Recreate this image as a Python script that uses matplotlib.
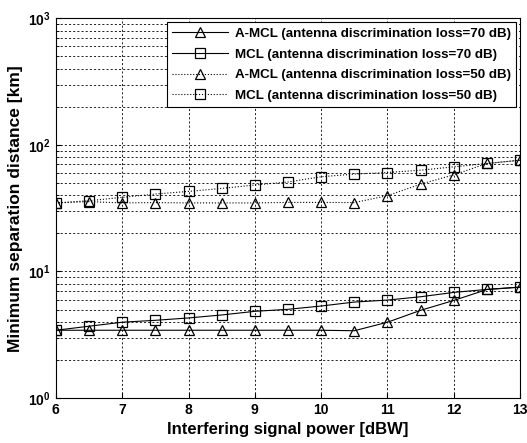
import numpy as np
import matplotlib.pyplot as plt

plt.rcParams['font.family'] = ['Liberation Sans', 'DejaVu Sans']

power = [6, 6.5, 7, 7.5, 8, 8.5, 9, 9.5, 10, 10.5, 11, 11.5, 12, 12.5, 13]
amcl_70 = [3.43, 3.43, 3.43, 3.43, 3.43, 3.43, 3.43, 3.43, 3.43, 3.4, 3.97, 4.93, 5.9, 7.2, 7.52]
mcl_70 = [3.43, 3.69, 3.97, 4.11, 4.29, 4.53, 4.84, 5.02, 5.33, 5.73, 5.94, 6.31, 6.83, 7.21, 7.52]
amcl_50 = [34.8, 35.6, 34.8, 35.0, 34.8, 34.8, 34.8, 35.1, 35.1, 35.0, 39.7, 49.0, 58.0, 71.3, 75.7]
mcl_50 = [34.8, 36.2, 38.5, 40.9, 42.9, 45.3, 48.2, 50.9, 56.0, 58.8, 60.5, 63.1, 67.1, 71.3, 75.7]

labels = ['A-MCL (antenna discrimination loss=70 dB)',
          'MCL (antenna discrimination loss=70 dB)',
          'A-MCL (antenna discrimination loss=50 dB)',
          'MCL (antenna discrimination loss=50 dB)']

fig = plt.figure(figsize=(5.27, 4.43), dpi=100)
ax = fig.add_axes([0.106, 0.1016, 0.881, 0.857])

mk = dict(color='black', lw=0.8, ms=6.5, mfc='none', mec='black', mew=0.9)
ax.semilogy(power, amcl_70, '-', marker='^', label=labels[0], **mk)
ax.semilogy(power, mcl_70, '-', marker='s', label=labels[1], **mk)
ax.semilogy(power, amcl_50, ':', marker='^', label=labels[2], **mk)
ax.semilogy(power, mcl_50, ':', marker='s', label=labels[3], **mk)

ax.set_xlim(6, 13)
ax.set_ylim(1, 1000)
ax.set_xticks(range(6, 14))
ax.grid(True, which='both', ls=(0, (2.5, 2.5)), color='black', lw=0.6)
ax.tick_params(which='both', direction='in', labelsize=10)
for t in ax.get_xticklabels() + ax.get_yticklabels():
    t.set_fontweight('bold')

ax.set_xlabel('Interfering signal power [dBW]', fontsize=12, fontweight='bold')
ax.set_ylabel('Minimum separation distance [km]', fontsize=12.5, fontweight='bold')

leg = ax.legend(loc='upper right', prop={'weight': 'bold', 'size': 9.6},
                fancybox=False, framealpha=1, edgecolor='black',
                borderaxespad=0.3, handlelength=4.2, labelspacing=0.62,
                handletextpad=0.5, borderpad=0.4)
leg.get_frame().set_linewidth(0.8)

fig.savefig('out.png', dpi=100)
